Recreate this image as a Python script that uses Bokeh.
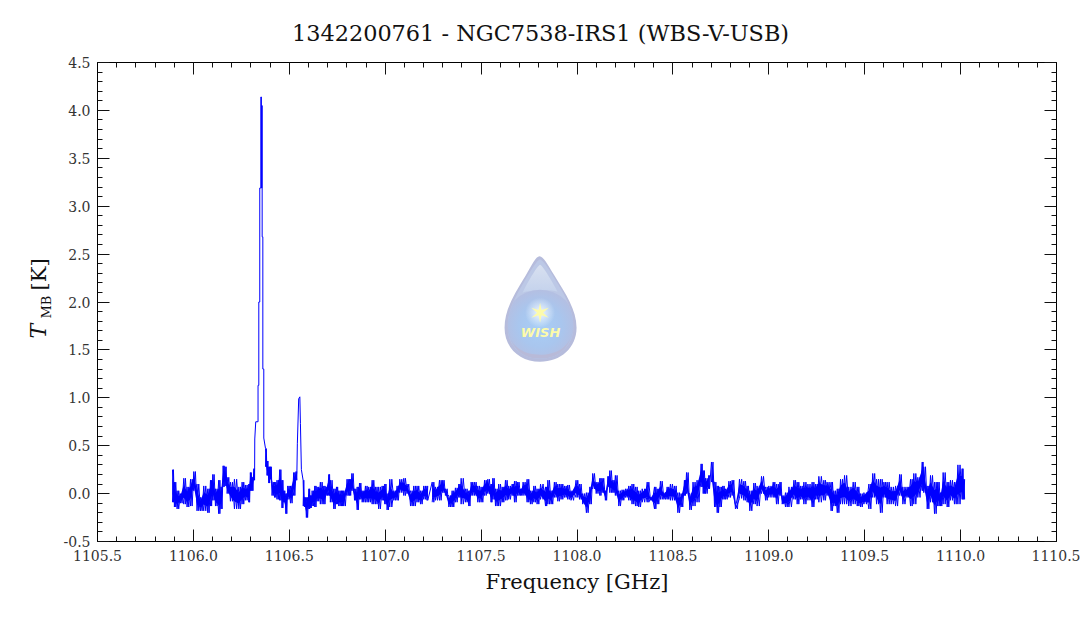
import base64
from bokeh.embed import file_html
from bokeh.resources import INLINE
from bokeh.plotting import figure
from bokeh.models import (Range1d, LinearAxis, FixedTicker, Label, ImageURL,
                          ColumnDataSource, NumeralTickFormatter)

# ---- data (GHz, K) ----
left_freq = [1105.891,1105.901,1105.915,1105.932,1105.950,1105.967,1105.985,1106.002,1106.019,1106.037,1106.054,1106.075,1106.089,1106.101,1106.115,1106.132,1106.144,1106.155,1106.165,1106.176,1106.193,1106.214,1106.237,1106.254,1106.271,1106.289,1106.297,1106.306,1106.315]
left_high = [0.25,0.12,0.03,0.00,0.16,0.07,0.15,0.23,0.10,-0.04,0.08,0.05,0.14,0.20,0.05,0.14,0.07,0.29,0.28,0.17,0.12,0.15,0.07,0.12,0.09,0.10,0.22,0.17,0.26]
left_low = [-0.09,-0.14,-0.16,-0.10,-0.11,-0.14,-0.13,0.03,-0.18,-0.18,-0.18,-0.20,-0.13,-0.07,-0.13,-0.21,-0.16,0.07,0.08,0.00,-0.08,-0.16,-0.16,-0.11,-0.07,-0.09,0.03,0.03,0.14]

peak1_freq = [1106.320,1106.325,1106.332,1106.337,1106.337,1106.341,1106.341,1106.346,1106.346,1106.3516,1106.3516,1106.3545,1106.3545,1106.3568,1106.3568,1106.3585,1106.3585,1106.362,1106.362,1106.367,1106.367]
peak1_tmb = [0.57,0.75,0.75,0.75,1.13,1.13,2.00,2.00,3.19,3.19,4.14,4.14,3.19,3.19,4.05,4.05,2.68,2.68,1.30,1.30,0.58]

mid_freq = [1106.376,1106.384,1106.393,1106.402,1106.410,1106.423,1106.436,1106.450,1106.462,1106.471,1106.482,1106.492,1106.506,1106.523,1106.535]
mid_high = [0.47,0.34,0.28,0.28,0.12,0.12,0.14,0.25,0.14,0.03,0.00,0.08,0.08,0.22,0.23]
mid_low = [0.28,0.19,0.11,0.15,-0.02,-0.04,-0.06,-0.07,-0.15,-0.09,-0.21,-0.06,-0.10,-0.02,0.14]

peak2_freq = [1106.542,1106.549,1106.555,1106.558,1106.563]
peak2_tmb = [0.52,0.99,1.01,0.73,0.25]

right_freq_a = [1106.572,1106.579,1106.589,1106.602,1106.610,1106.619,1106.633,1106.645,1106.662,1106.680,1106.692,1106.706,1106.714,1106.732,1106.746,1106.758,1106.772,1106.784,1106.801,1106.814,1106.826,1106.840,1106.854,1106.866,1106.880,1106.897,1106.914,1106.932,1106.949,1106.966,1106.984,1106.998,1107.010,1107.024,1107.045,1107.062,1107.076,1107.097,1107.114,1107.132,1107.149,1107.166,1107.184,1107.201,1107.218]
right_high_a = [0.14,-0.04,-0.04,0.05,-0.02,0.03,0.08,0.07,0.12,0.08,0.07,0.20,0.14,0.05,0.07,0.03,0.03,0.03,0.15,0.15,0.21,0.05,0.07,0.11,0.03,0.08,0.07,0.14,0.07,0.07,0.08,0.10,0.00,0.15,0.03,0.08,0.15,0.16,0.10,0.03,0.08,0.08,0.03,0.08,0.08]
right_low_a = [-0.13,-0.14,-0.25,-0.16,-0.15,-0.13,-0.14,-0.08,-0.11,-0.11,-0.02,-0.02,-0.09,-0.16,-0.11,-0.13,-0.13,-0.13,-0.02,-0.02,0.03,-0.07,-0.17,-0.06,-0.09,-0.09,-0.09,-0.11,-0.11,-0.16,-0.07,-0.11,-0.17,-0.14,-0.07,-0.07,0.01,-0.02,0.00,-0.13,-0.13,-0.09,-0.11,-0.06,-0.07]

right_freq_b = [1107.245,1107.262,1107.283,1107.300,1107.314,1107.332,1107.349,1107.366,1107.384,1107.396,1107.418,1107.436,1107.448,1107.465,1107.483,1107.500,1107.518,1107.535,1107.552,1107.561,1107.575,1107.592,1107.610,1107.627,1107.644,1107.662,1107.674,1107.691,1107.705,1107.719,1107.740,1107.757,1107.775,1107.792,1107.810,1107.836,1107.848,1107.865,1107.882,1107.900,1107.917,1107.935,1107.952,1107.969,1107.995,1108.013,1108.030,1108.049,1108.067,1108.082,1108.100,1108.119,1108.131,1108.148,1108.161,1108.171,1108.187,1108.200,1108.218,1108.235,1108.253,1108.270,1108.287,1108.305,1108.322,1108.340,1108.366,1108.383,1108.404,1108.418,1108.435,1108.453,1108.470,1108.487,1108.508,1108.526,1108.543,1108.560,1108.571,1108.588,1108.605,1108.626,1108.647,1108.658,1108.670,1108.687]
right_high_b = [0.12,0.07,0.14,0.14,0.05,-0.02,0.03,0.06,0.10,0.16,0.05,0.03,0.12,0.12,0.08,0.07,0.14,0.15,0.10,0.16,0.05,0.10,0.07,0.14,0.08,0.10,0.13,0.12,0.05,0.12,0.15,0.03,0.08,0.05,0.10,0.07,0.14,0.03,0.12,0.10,0.10,0.08,0.09,0.03,0.14,0.10,0.00,0.01,0.07,0.21,0.12,0.16,0.16,0.03,0.18,0.24,0.14,0.19,0.03,0.04,0.05,0.08,0.10,0.07,0.03,0.05,0.12,-0.04,0.07,0.05,0.13,0.01,0.07,0.10,0.08,0.01,0.00,0.14,0.22,0.00,0.12,0.14,0.31,0.24,0.16,0.19]
right_low_b = [-0.09,-0.07,-0.07,0.01,-0.02,-0.14,-0.14,-0.09,-0.04,-0.11,-0.09,-0.13,-0.02,-0.02,-0.09,-0.09,-0.02,0.00,-0.09,-0.06,-0.13,-0.13,-0.09,-0.07,-0.06,-0.02,-0.09,-0.02,-0.02,-0.02,-0.09,-0.11,-0.09,-0.11,-0.06,-0.13,-0.11,-0.11,-0.04,-0.08,-0.06,-0.04,-0.06,-0.07,-0.04,-0.06,-0.11,-0.20,-0.11,0.05,0.00,-0.02,0.01,-0.07,0.07,0.01,0.01,-0.02,-0.13,-0.07,-0.04,-0.07,-0.11,-0.13,-0.14,-0.09,-0.09,-0.07,-0.16,-0.11,-0.06,-0.06,-0.06,-0.07,-0.07,-0.20,-0.14,-0.02,0.00,-0.17,-0.13,-0.09,0.07,0.00,0.00,0.05]

right_freq_c = [1108.701,1108.717,1108.731,1108.745,1108.760,1108.774,1108.792,1108.809,1108.826,1108.847,1108.870,1108.887,1108.901,1108.922,1108.939,1108.962,1108.983,1109.000,1109.023,1109.040,1109.058,1109.070,1109.087,1109.105,1109.131,1109.148,1109.165,1109.183,1109.204,1109.226,1109.244,1109.261,1109.287,1109.304,1109.325,1109.339,1109.357,1109.374,1109.395,1109.417,1109.440,1109.461,1109.478,1109.496,1109.522,1109.542,1109.562,1109.582,1109.600,1109.617,1109.638,1109.661,1109.682,1109.699,1109.721,1109.739,1109.756,1109.777,1109.800,1109.808,1109.826,1109.843,1109.864,1109.881,1109.895,1109.909,1109.930,1109.947,1109.968,1109.986,1110.008,1110.017]
right_high_c = [0.33,0.12,0.08,0.07,0.08,0.05,0.13,0.14,-0.11,0.15,0.13,0.08,0.03,0.11,0.08,0.18,0.07,0.08,0.12,0.10,0.12,-0.02,0.01,0.07,0.14,0.12,0.08,0.12,0.10,0.12,0.10,0.18,0.14,0.12,0.12,0.03,0.05,0.15,0.19,0.07,0.12,0.07,0.00,0.01,0.10,0.21,0.15,0.15,0.12,0.12,0.07,0.08,0.20,0.07,0.07,0.15,0.21,0.17,0.33,0.28,0.08,0.19,0.12,0.12,0.01,0.22,0.12,0.14,0.12,0.30,0.26,0.15]
right_low_c = [0.12,-0.14,-0.20,-0.14,-0.06,-0.06,-0.04,-0.02,-0.16,-0.05,-0.07,-0.09,-0.18,-0.11,-0.13,0.00,-0.07,-0.04,-0.04,-0.11,-0.02,-0.11,-0.14,-0.14,-0.06,-0.11,-0.06,-0.11,-0.07,-0.14,-0.06,-0.09,-0.07,-0.02,-0.18,-0.13,-0.20,-0.11,-0.11,-0.13,-0.11,-0.13,-0.14,-0.11,-0.16,-0.04,-0.11,-0.20,-0.04,-0.11,-0.11,-0.13,-0.02,-0.11,-0.04,-0.13,-0.11,-0.04,0.03,0.01,-0.16,-0.09,-0.21,-0.13,-0.13,-0.11,-0.14,-0.07,-0.11,-0.11,-0.06,-0.06]

x_major = [1105.5,1106.0,1106.5,1107.0,1107.5,1108.0,1108.5,1109.0,1109.5,1110.0,1110.5]
y_major = [-0.5,0.0,0.5,1.0,1.5,2.0,2.5,3.0,3.5,4.0,4.5]
x_minor = [1105.5 + i * 0.1 for i in range(51)]
y_minor = [-0.5 + i * 0.1 for i in range(51)]

title_text = "1342200761 - NGC7538-IRS1 (WBS-V-USB)"
xlabel_text = "Frequency [GHz]"

SERIF = "DejaVu Serif"
BLUE = "#0000ff"
INK = "#333333"

# The frame spans the whole canvas so that texts around the box are not clipped;
# the visible box is made of four axes fixed at the limits of the data window.
X0, X1, Y0, Y1 = 1105.5, 1110.5, -0.5, 4.5
PX_X = 959 / (X1 - X0)
PX_Y = 479 / (Y1 - Y0)
CANVAS_W, CANVAS_H = 1080, 601
CORE = 0.5


def zigzag(freq, high, low, flip=False):
    xs, ys = [], []
    for i, f in enumerate(freq):
        nxt = freq[i + 1] if i + 1 < len(freq) else f + 0.008
        xs += [f, (f + nxt) / 2]
        ys += [low[i], high[i]] if flip else [high[i], low[i]]
    return xs, ys


sections = ((left_freq, left_high, left_low), (mid_freq, mid_high, mid_low),
            (right_freq_a, right_high_a, right_low_a),
            (right_freq_b, right_high_b, right_low_b),
            (right_freq_c, right_high_c, right_low_c))

path_x, path_y = [], []
for part in (zigzag(*sections[0]), (peak1_freq, peak1_tmb),
             zigzag(*sections[1]), (peak2_freq, peak2_tmb),
             zigzag(*sections[2]), zigzag(*sections[3]), zigzag(*sections[4])):
    path_x += list(part[0])
    path_y += list(part[1])

p = figure(frame_width=CANVAS_W, frame_height=CANVAS_H, output_backend="svg", toolbar_location=None,
           x_range=Range1d(X0 - 97 / PX_X, X1 + 24 / PX_X), y_range=Range1d(Y0 - 60 / PX_Y, Y1 + 62 / PX_Y),
           min_border=0, x_axis_type=None, y_axis_type=None)
p.grid.visible = False
p.outline_line_color = None
p.background_fill_color = "#ffffff"
p.border_fill_color = "#ffffff"

below = LinearAxis(fixed_location=Y0, bounds=(X0, X1))
above = LinearAxis(fixed_location=Y1, bounds=(X0, X1))
left = LinearAxis(fixed_location=X0, bounds=(Y0, Y1))
right = LinearAxis(fixed_location=X1, bounds=(Y0, Y1))
p.add_layout(below, "below")
p.add_layout(above, "above")
p.add_layout(left, "left")
p.add_layout(right, "right")

for ax, major, minor in ((below, x_major, x_minor), (above, x_major, x_minor),
                         (left, y_major, y_minor), (right, y_major, y_minor)):
    ax.ticker = FixedTicker(ticks=major, minor_ticks=minor)
    ax.formatter = NumeralTickFormatter(format="0.0")
    ax.major_tick_in = 12
    ax.major_tick_out = 0
    ax.minor_tick_in = 5
    ax.minor_tick_out = 0
    ax.axis_line_color = "#000000"
    ax.major_tick_line_color = "#111111"
    ax.minor_tick_line_color = "#111111"
    ax.major_label_text_font = SERIF
    ax.major_label_text_font_size = "14px"
    ax.major_label_text_color = INK
    ax.major_label_standoff = 8
left.major_label_standoff = 7
above.major_label_overrides = {t: "" for t in x_major}
right.major_label_overrides = {t: "" for t in y_major}
above.major_label_standoff = 0
right.major_label_standoff = 0

below.axis_label = xlabel_text
below.axis_label_text_font = SERIF
below.axis_label_text_font_size = "21px"
below.axis_label_text_font_style = "normal"
below.axis_label_text_color = "#111111"
below.axis_label_standoff = 6

# water-drop logo behind the spectrum
logo_svg = """<svg xmlns='http://www.w3.org/2000/svg' width='148' height='216' viewBox='0 0 74 108'>
<defs>
<clipPath id='c'><path d='M36.5 3.5 C40 5 46 14 53 26 C63 42 70 56 70 71 C70 90 55 103 36.5 103 C18 103 4 90 4 71 C4 56 11 42 20 27 C27 15 33 5 36.5 3.5 Z'/></clipPath>
<radialGradient id='b' cx='0.5' cy='0.5' r='0.5'>
<stop offset='0' stop-color='#a8cef6'/><stop offset='0.6' stop-color='#a9c6ee'/>
<stop offset='1' stop-color='#b4bfe2'/></radialGradient>
<linearGradient id='h' x1='0' y1='0' x2='0' y2='1'>
<stop offset='0' stop-color='#d8e0f0'/><stop offset='1' stop-color='#c4d2ec'/></linearGradient>
<radialGradient id='s' cx='0.5' cy='0.5' r='0.5'>
<stop offset='0' stop-color='#ffffff' stop-opacity='0.85'/><stop offset='1' stop-color='#ffffff' stop-opacity='0'/></radialGradient>
</defs>
<path d='M36 0.5 C40 1 43 7 51 20 C62 38 73 54 73 72 C73 92 57 106 36.5 106 C16 106 1 92 1 72 C1 54 11 38 22 20 C29 8 32 1 36 0.5 Z' fill='#b6bcdc'/>
<g clip-path='url(#c)'>
<rect x='0' y='0' width='74' height='108' fill='#bcc8e6'/>
<path d='M36.5 9 C39 10 46 21 54 36 C47 34 27 34 19 37 C26 23 34 10 36.5 9 Z' fill='url(#h)'/>
<circle cx='36.5' cy='70' r='36' fill='url(#b)'/>
<path d='M4 71 C8 95 20 103 36.5 103 C53 103 66 95 70 71 C68 92 52 99 36.5 99 C21 99 6 92 4 71 Z' fill='#b8bad8'/>
</g>
<circle cx='36.5' cy='57' r='15' fill='url(#s)'/>
<path d='M36.5 47 L38 54.4 L45.2 52 L39.5 57 L45.2 62 L38 59.6 L36.5 67 L35 59.6 L27.8 62 L33.5 57 L27.8 52 L35 54.4 Z' fill='#fdfbaa'/>
</svg>"""
logo_url = "data:image/svg+xml;base64," + base64.b64encode(logo_svg.encode()).decode()
logo_src = ColumnDataSource(dict(url=[logo_url], x=[1107.81], y=[1.92]))
p.add_glyph(logo_src, ImageURL(url="url", x="x", y="y", w=74, h=108, w_units="screen", h_units="screen", anchor="center"))
p.add_layout(Label(x=1107.81, y=1.68, text="WISH", text_font="DejaVu Sans", text_font_size="13px",
                   text_font_style="bold italic", text_color="#fdfbaa", text_align="center", text_baseline="middle"))

# solid core of the noise band, then the spiky trace on top
for f_list, h_list, l_list in sections:
    centre = [(h + l) / 2 for h, l in zip(h_list, l_list)]
    half = [CORE * (h - l) / 2 for h, l in zip(h_list, l_list)]
    p.varea(x=f_list, y1=[c + d for c, d in zip(centre, half)], y2=[c - d for c, d in zip(centre, half)],
            fill_color=BLUE)
    flip_x, flip_y = zigzag(f_list, h_list, l_list, flip=True)
    p.line(flip_x, flip_y, line_color=BLUE, line_width=1.0)
p.line(path_x, path_y, line_color=BLUE, line_width=1.0)

p.add_layout(Label(x=540, y=CANVAS_H - 32, x_units="screen", y_units="screen", text=title_text,
                   text_font=SERIF, text_font_size="22.4px", text_color="#111111",
                   text_align="center", text_baseline="middle"))

# y-axis label: italic T, small MB subscript, [K]
for text, x, y, size, style in (("T", 38, 263, "22px", "italic"),
                                ("MB", 46, 283, "13px", "normal"),
                                ("[K]", 38, 311, "21px", "normal")):
    p.add_layout(Label(x=x, y=y, x_units="screen", y_units="screen", text=text, angle=90, angle_units="deg",
                       text_font=SERIF, text_font_size=size, text_font_style=style, text_color="#111111",
                       text_align="left", text_baseline="alphabetic"))

open("out.html", "w").write(file_html(p, INLINE))
